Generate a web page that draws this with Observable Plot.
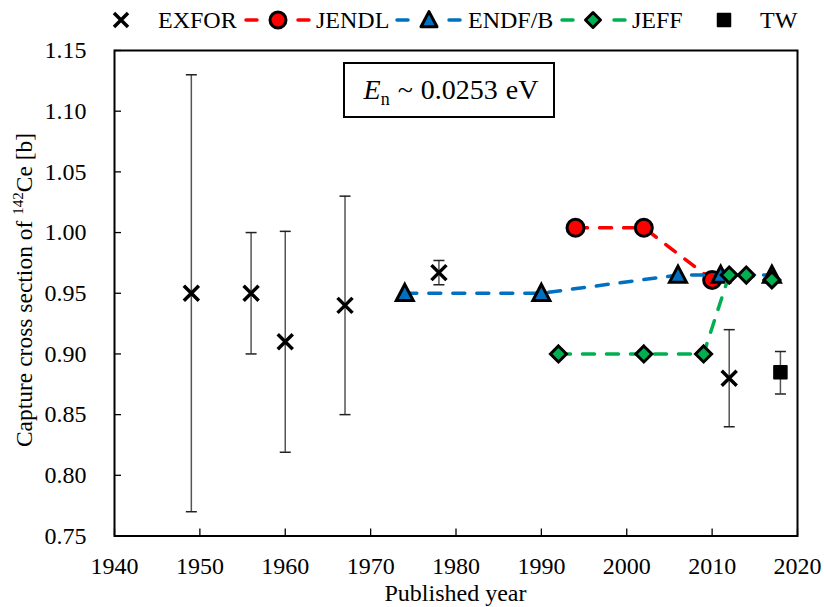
<!DOCTYPE html>
<html><head><meta charset="utf-8">
<script src="https://cdn.jsdelivr.net/npm/d3@7"></script>
<script src="https://cdn.jsdelivr.net/npm/@observablehq/plot@0.6"></script>
<style>
body{margin:0;background:#fff;font-family:"Liberation Serif","Times New Roman",serif;}
#wrap{position:relative;width:824px;height:607px;overflow:hidden;}
#legend{position:absolute;left:0;top:0;}
#chart{position:absolute;left:0;top:34px;}
#note{position:absolute;left:343px;top:62px;width:204px;height:52px;border:2px solid #000;font-size:28px;display:flex;align-items:center;justify-content:center;background:#fff;word-spacing:1px;padding-left:4px;box-sizing:content-box;}
</style></head>
<body><div id="wrap"><svg id="legend" width="824" height="34"></svg><div id="chart"></div>
<div id="note"><span><i>E</i><span style="font-size:18px;position:relative;top:6px">n</span> ~ 0.0253 eV</span></div></div>
<script>
// ---- data ----
const exforYear = [1949, 1956, 1960, 1967, 1978, 2012];
const exforValue = [0.95, 0.95, 0.91, 0.94, 0.967, 0.88];
const exforLow = [0.77, 0.90, 0.819, 0.85, 0.957, 0.84];
const exforHigh = [1.13, 1.00, 1.001, 1.03, 0.977, 0.92];
const jendlYear = [1994, 2002, 2010];
const jendlValue = [1.004, 1.004, 0.961];
const endfYear = [1974, 1990, 2006, 2011, 2017];
const endfValue = [0.95, 0.95, 0.965, 0.965, 0.965];
const jeffYear = [1992, 2002, 2009, 2012, 2014, 2017];
const jeffValue = [0.90, 0.90, 0.90, 0.965, 0.965, 0.961];
const twYear = [2018];
const twValue = [0.885];
const twLow = [0.867];
const twHigh = [0.902];
const xTicks = [1940, 1950, 1960, 1970, 1980, 1990, 2000, 2010, 2020];
const yTicks = [0.75, 0.80, 0.85, 0.90, 0.95, 1.00, 1.05, 1.10, 1.15];
const seriesNames = ["EXFOR", "JENDL", "ENDF/B", "JEFF", "TW"];

const RED = "#ff0000", BLUE = "#0070c0", GREEN = "#00b050";

// ---- symbols ----
const rad = s => Math.sqrt(s / Math.PI);
const symX = {draw(c, s){const h = rad(s); c.moveTo(-h,-h); c.lineTo(h,h); c.moveTo(h,-h); c.lineTo(-h,h);}};
const symCap = {draw(c, s){const h = rad(s); c.moveTo(-h,0); c.lineTo(h,0);}};
const symTri = {draw(c, s){const h = rad(s); c.moveTo(0,-h*1.05); c.lineTo(h,h*0.85); c.lineTo(-h,h*0.85); c.closePath();}};
const symDia = {draw(c, s){const h = rad(s); c.moveTo(0,-h); c.lineTo(h,0); c.lineTo(0,h); c.lineTo(-h,0); c.closePath();}};
const symSq = {draw(c, s){const h = rad(s); c.moveTo(-h,-h); c.lineTo(h,-h); c.lineTo(h,h); c.lineTo(-h,h); c.closePath();}};
const symCirc = {draw(c, s){const h = rad(s); c.moveTo(h,0); c.arc(0,0,h,0,2*Math.PI);}};

const zip = (xs, ys, extra={}) => xs.map((x,i)=>{const o={x, y: ys[i]}; for (const k in extra) o[k]=extra[k][i]; return o;});
const exfor = zip(exforYear, exforValue, {lo: exforLow, hi: exforHigh});
const jendl = zip(jendlYear, jendlValue);
const endf = zip(endfYear, endfValue);
const jeff = zip(jeffYear, jeffValue);
const tw = zip(twYear, twValue, {lo: twLow, hi: twHigh});

const dash = "12,12";
const plot = Plot.plot({
  width: 824, height: 573,
  marginLeft: 114, marginRight: 27, marginTop: 16, marginBottom: 71.5,
  style: {fontFamily: '"Liberation Serif","Times New Roman",serif', fontSize: "24px", color: "#000", background: "#fff", overflow: "visible"},
  x: {domain: [1940, 2020]},
  y: {domain: [0.75, 1.15]},
  marks: [
    Plot.frame({stroke: "#000", strokeWidth: 2}),
    Plot.axisX({ticks: xTicks, tickSize: -7, tickPadding: 28, tickFormat: d => String(d), label: null, strokeWidth: 1.3}),
    Plot.axisY({ticks: yTicks, tickSize: -7, tickPadding: 35, tickFormat: d3.format(".2f"), label: null, strokeWidth: 1.3}),
    // EXFOR
    Plot.ruleX(exfor, {x: "x", y1: "lo", y2: "hi", stroke: "#555", strokeWidth: 1.5}),
    Plot.dot(exfor, {x: "x", y: "lo", symbol: symCap, r: 5.5, stroke: "#222", strokeWidth: 1.5, fill: "none"}),
    Plot.dot(exfor, {x: "x", y: "hi", symbol: symCap, r: 5.5, stroke: "#222", strokeWidth: 1.5, fill: "none"}),
    Plot.dot(exfor, {x: "x", y: "y", symbol: symX, r: 7.5, stroke: "#000", strokeWidth: 3.5, fill: "none"}),
    // JENDL
    Plot.line(jendl, {x: "x", y: "y", stroke: RED, strokeWidth: 3.5, strokeDasharray: dash, strokeLinecap: "round"}),
    Plot.dot(jendl, {x: "x", y: "y", symbol: symCirc, r: 8.5, fill: RED, stroke: "#000", strokeWidth: 3}),
    // ENDF/B
    Plot.line(endf, {x: "x", y: "y", stroke: BLUE, strokeWidth: 3.5, strokeDasharray: dash, strokeLinecap: "round"}),
    Plot.dot(endf, {x: "x", y: "y", symbol: symTri, r: 8.5, fill: BLUE, stroke: "#000", strokeWidth: 3}),
    // JEFF
    Plot.line(jeff, {x: "x", y: "y", stroke: GREEN, strokeWidth: 3.5, strokeDasharray: dash, strokeLinecap: "round"}),
    Plot.dot(jeff, {x: "x", y: "y", symbol: symDia, r: 8, fill: GREEN, stroke: "#000", strokeWidth: 3}),
    // TW
    Plot.ruleX(tw, {x: "x", y1: "lo", y2: "hi", stroke: "#555", strokeWidth: 1.5}),
    Plot.dot(tw, {x: "x", y: "lo", symbol: symCap, r: 5.5, stroke: "#222", strokeWidth: 1.5, fill: "none"}),
    Plot.dot(tw, {x: "x", y: "hi", symbol: symCap, r: 5.5, stroke: "#222", strokeWidth: 1.5, fill: "none"}),
    Plot.dot(tw, {x: "x", y: "y", symbol: symSq, r: 6.5, fill: "#000", stroke: "#000", strokeWidth: 1.5, strokeLinejoin: "round"})
  ]
});
document.getElementById("chart").appendChild(plot);

// axis titles
const svg = d3.select(plot);
const yt = svg.append("text")
  .attr("transform", "translate(32,256) rotate(-90)")
  .attr("text-anchor", "middle")
  .attr("font-size", 23.5)
  .attr("fill", "#000");
yt.append("tspan").text("Capture cross section of ");
yt.append("tspan").attr("font-size", 15).attr("dy", -9).text("142");
yt.append("tspan").attr("dy", 9).text("Ce [b]");
svg.append("text")
  .attr("x", 455.5).attr("y", 567)
  .attr("text-anchor", "middle")
  .attr("font-size", 24)
  .attr("fill", "#000")
  .text("Published year");

// legend
const lg = d3.select("#legend").style("font-family", '"Liberation Serif","Times New Roman",serif');
const cy = 20;
const items = [
  {name: seriesNames[0], sym: symX, r: 7, x: 121, tx: 158, fill: "none", stroke: "#000", sw: 3.5},
  {name: seriesNames[1], sym: symCirc, r: 8, x: 278, tx: 316, fill: RED, stroke: "#000", sw: 3, line: RED, l: [246, 310]},
  {name: seriesNames[2], sym: symTri, r: 8, x: 429, tx: 468, fill: BLUE, stroke: "#000", sw: 3, line: BLUE, l: [397, 461]},
  {name: seriesNames[3], sym: symDia, r: 7.5, x: 593, tx: 632, fill: GREEN, stroke: "#000", sw: 3, line: GREEN, l: [562, 625]},
  {name: seriesNames[4], sym: symSq, r: 6.5, x: 724, tx: 760, fill: "#000", stroke: "#000", sw: 1.5}
];
for (const it of items) {
  if (it.line) {
    lg.append("line").attr("x1", it.l[0]).attr("x2", it.l[1]).attr("y1", cy).attr("y2", cy)
      .attr("stroke", it.line).attr("stroke-width", 3.5).attr("stroke-dasharray", "11,41").attr("stroke-linecap", "round");
  }
  lg.append("path").attr("transform", `translate(${it.x},${cy})`)
    .attr("d", d3.symbol(it.sym, Math.PI * it.r * it.r)())
    .attr("fill", it.fill).attr("stroke", it.stroke).attr("stroke-width", it.sw).attr("stroke-linejoin", "round");
  lg.append("text").attr("x", it.tx).attr("y", cy + 8).attr("font-size", 24).attr("fill", "#000").text(it.name);
}
</script>
</body></html>
